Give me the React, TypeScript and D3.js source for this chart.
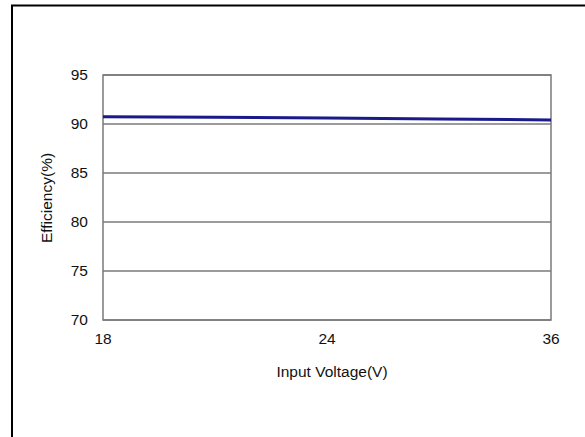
import React from "react";
import * as d3 from "d3";

const voltages = [18, 21, 24, 30, 36];
const efficiency = [90.75, 90.68, 90.6, 90.5, 90.42];
const yTicks = [70, 75, 80, 85, 90, 95];
const xTicks = [18, 24, 36];

export default function App() {
  const W = 585, H = 437;
  const left = 103, right = 551, top = 75, bottom = 320;
  const x = d3.scaleLinear().domain([18, 24, 36]).range([left, (left + right) / 2, right]);
  const y = d3.scaleLinear().domain([70, 95]).range([bottom, top]);
  const line = d3.line<number>().x((_, i) => x(voltages[i])).y((d) => y(d));
  const font = "Arial, 'Liberation Sans', sans-serif";
  const fs = 15.5;
  return (
    <svg width={W} height={H} style={{ position: "absolute", left: 0, top: 0, background: "#fff" }}>
      <rect x={0} y={0} width={W} height={H} fill="#fff" />
      <line x1={12} y1={5} x2={12} y2={H} stroke="#000" strokeWidth={2} />
      <line x1={11} y1={5.5} x2={W} y2={5.5} stroke="#000" strokeWidth={2} />
      {yTicks.map((t) => (
        <g key={t}>
          <line x1={left} x2={right} y1={y(t)} y2={y(t)} stroke="#7a7a7a" strokeWidth={1.3} />
          <text x={88} y={y(t)} dy="0.35em" textAnchor="end" fontSize={fs} fontFamily={font} fill="#111">
            {t}
          </text>
        </g>
      ))}
      <rect x={left} y={top} width={right - left} height={bottom - top} fill="none" stroke="#7a7a7a" strokeWidth={1.5} />
      {xTicks.map((t) => (
        <text key={t} x={x(t)} y={339} dy="0.35em" textAnchor="middle" fontSize={fs} fontFamily={font} fill="#111">
          {t}
        </text>
      ))}
      <path d={line(efficiency) || ""} fill="none" stroke="#1a1a8a" strokeWidth={3} />
      <text x={332} y={372} dy="0.35em" textAnchor="middle" fontSize={fs} fontFamily={font} fill="#111">
        Input Voltage(V)
      </text>
      <text
        transform="translate(47,198) rotate(-90)"
        dy="0.35em"
        textAnchor="middle"
        fontSize={fs}
        fontFamily={font}
        fill="#111"
      >
        Efficiency(%)
      </text>
    </svg>
  );
}
